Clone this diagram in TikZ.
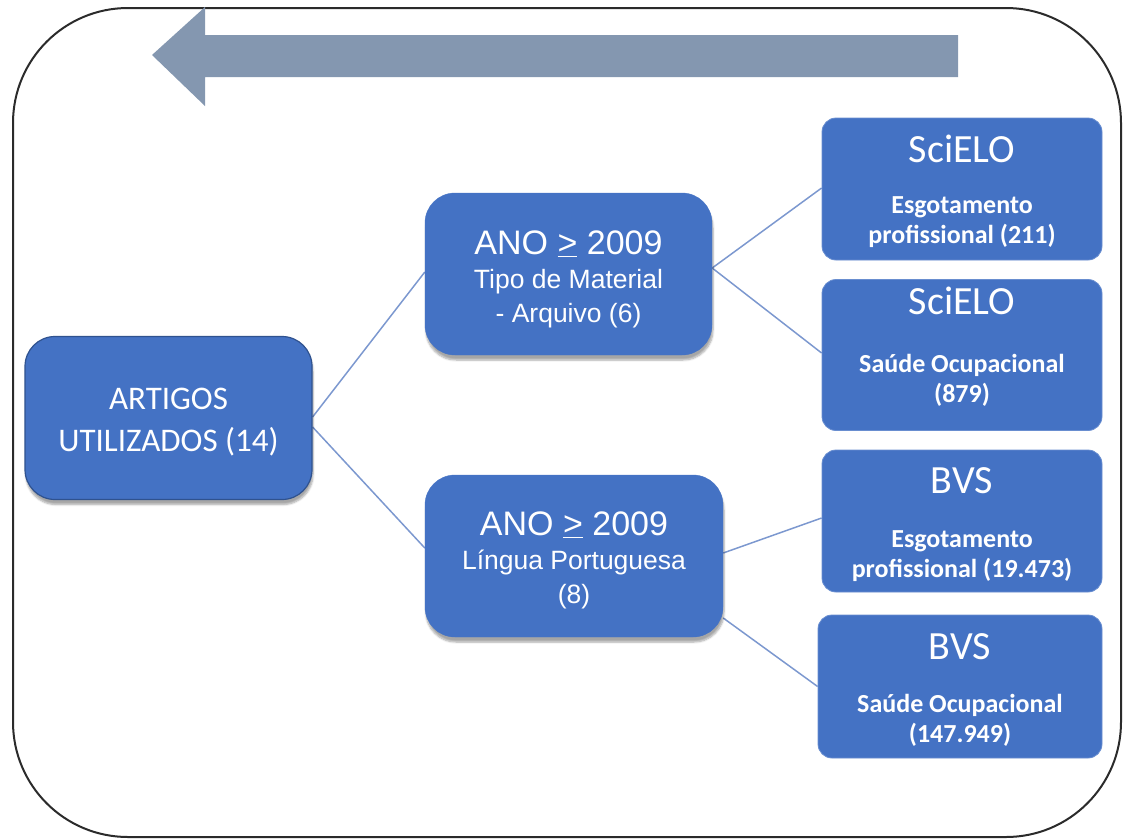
\documentclass[tikz,border=0pt]{standalone}
\usepackage{fontspec}
\setmainfont{Carlito}
\newfontfamily\carlito{Carlito}
\newfontfamily\arialf{Liberation Sans}
\usetikzlibrary{shadows.blur,backgrounds}
\definecolor{boxblue}{HTML}{4472C4}
\definecolor{navy}{HTML}{2F528F}
\definecolor{linkblue}{HTML}{7C98CF}
\definecolor{arrowgray}{HTML}{8497B0}
\definecolor{framegray}{HTML}{2B2B2B}
\newcommand{\hdfont}{\mdseries\fontsize{40}{40}\selectfont}
\newcommand{\subfont}{\carlito\bfseries\fontsize{26}{30}\selectfont}
\newcommand{\anofont}{\fontsize{34}{34}\selectfont}
\newcommand{\midfont}{\arialf\fontsize{26.5}{34}\selectfont}
\newcommand{\uge}{\underline{>}}
\newcommand{\hdstrut}[1]{\rule{0pt}{#1}}
\tikzset{
  bluebox/.style={fill=boxblue, text=white, align=center, inner sep=0pt},
  leftbox/.style={bluebox, draw=navy, line width=1.2pt, rounded corners=30pt,
    font=\carlito\fontsize{33}{42}\selectfont,
    blur shadow={shadow xshift=1pt, shadow yshift=-5pt, shadow blur steps=6, shadow opacity=35}},
  midbox/.style={bluebox, draw=boxblue, rounded corners=30pt, font=\midfont,
    blur shadow={shadow xshift=1pt, shadow yshift=-5pt, shadow blur steps=6, shadow opacity=35}},
  dbbox/.style={bluebox, draw=boxblue!80!white, line width=0.8pt, rounded corners=14pt, font=\subfont},
  link/.style={draw=linkblue, line width=1.5pt},
}
\begin{document}
\begin{tikzpicture}[x=1pt,y=-1pt]
\useasboundingbox (0,0) rectangle (1124,839);
% outer frame
\draw[framegray, line width=2pt, rounded corners=115pt] (13,8) rectangle (1121,837);
% big arrow
\fill[arrowgray] (152,55) -- (205,7) -- (205,35) -- (958,35) -- (958,77) -- (205,77) -- (205,106) -- cycle;
% boxes
\node[leftbox, minimum width=287pt, minimum height=163pt] (art) at (168.5,418)
  {\hdstrut{29pt}ARTIGOS\\UTILIZADOS (14)};
\node[midbox, minimum width=287pt, minimum height=162pt] (m1) at (568.5,274)
  {{\anofont\hdstrut{35pt}ANO \uge{} 2009}\\Tipo de Material\\- Arquivo (6)};
\node[midbox, minimum width=298pt, minimum height=162pt] (m2) at (574,556)
  {{\anofont\hdstrut{33pt}ANO \uge{} 2009}\\Língua Portuguesa\\(8)};
\node[dbbox, minimum width=280pt, minimum height=142pt] (s1) at (962,189)
  {{\hdfont\hdstrut{33pt}SciELO}\\[21pt]Esgotamento\\profissional (211)};
\node[dbbox, minimum width=280pt, minimum height=140pt] (s2) at (962,355)
  {{\hdfont\hdstrut{35pt}SciELO}\\[28pt]Saúde Ocupacional\\(879)\\[-2pt]\rule{0pt}{20pt}};
\node[dbbox, minimum width=280pt, minimum height=142pt] (b1) at (962,521)
  {{\hdfont\hdstrut{33pt}BVS}\\[24pt]Esgotamento\\profissional (19.473)};
\node[dbbox, minimum width=284pt, minimum height=143pt] (b2) at (960,686.5)
  {{\hdfont\hdstrut{33pt}BVS}\\[23pt]Saúde Ocupacional\\(147.949)};
% connectors
\begin{pgfonlayer}{background}
\draw[link] ([yshift=1pt]art.east) -- ([yshift=2pt]m1.west);
\draw[link] ([yshift=-9pt]art.east) -- ([yshift=8pt]m2.west);
\draw[link] ([yshift=6pt]m1.east) -- ([yshift=1pt]s1.west);
\draw[link] ([yshift=6pt]m1.east) -- ([yshift=2pt]s2.west);
\draw[link] ([yshift=3pt]m2.east) -- ([yshift=3pt]b1.west);
\draw[link] ([yshift=-62pt]m2.east) -- (b2.west);
\end{pgfonlayer}
\end{tikzpicture}
\end{document}
